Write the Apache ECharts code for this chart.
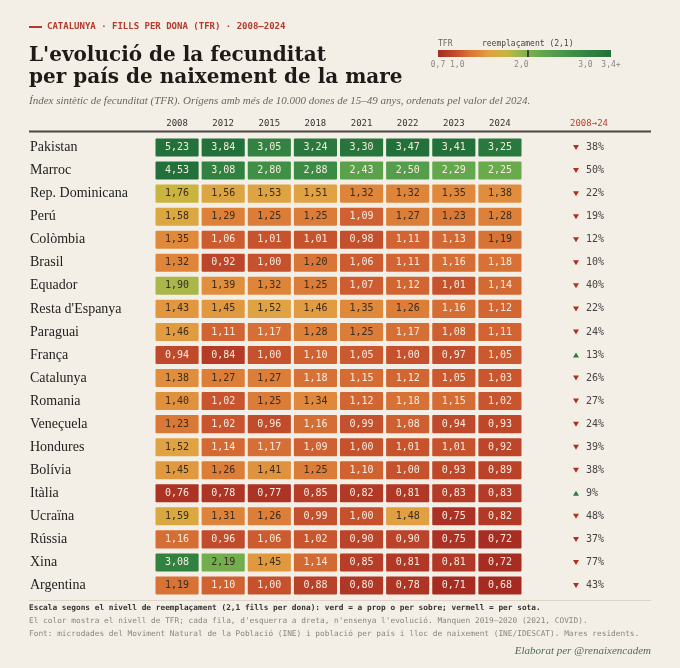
<!DOCTYPE html>
<html>
<head>
<meta charset="utf-8">
<script src="https://cdn.jsdelivr.net/npm/echarts@6/dist/echarts.min.js"></script>
<style>
html,body{margin:0;padding:0;background:#f4efe6;}
#chart{width:680px;height:668px;}
</style>
</head>
<body>
<div id="chart"></div>
<script>
var years = ['2008','2012','2015','2018','2021','2022','2023','2024'];
var countries = ['Pakistan','Marroc','Rep. Dominicana','Perú','Colòmbia','Brasil','Equador',"Resta d'Espanya",'Paraguai','França','Catalunya','Romania','Veneçuela','Hondures','Bolívia','Itàlia','Ucraïna','Rússia','Xina','Argentina'];
// TFR per país (files) i any (columnes)
var tfr = [
  [5.23,3.84,3.05,3.24,3.30,3.47,3.41,3.25],
  [4.53,3.08,2.80,2.88,2.43,2.50,2.29,2.25],
  [1.76,1.56,1.53,1.51,1.32,1.32,1.35,1.38],
  [1.58,1.29,1.25,1.25,1.09,1.27,1.23,1.28],
  [1.35,1.06,1.01,1.01,0.98,1.11,1.13,1.19],
  [1.32,0.92,1.00,1.20,1.06,1.11,1.16,1.18],
  [1.90,1.39,1.32,1.25,1.07,1.12,1.01,1.14],
  [1.43,1.45,1.52,1.46,1.35,1.26,1.16,1.12],
  [1.46,1.11,1.17,1.28,1.25,1.17,1.08,1.11],
  [0.94,0.84,1.00,1.10,1.05,1.00,0.97,1.05],
  [1.38,1.27,1.27,1.18,1.15,1.12,1.05,1.03],
  [1.40,1.02,1.25,1.34,1.12,1.18,1.15,1.02],
  [1.23,1.02,0.96,1.16,0.99,1.08,0.94,0.93],
  [1.52,1.14,1.17,1.09,1.00,1.01,1.01,0.92],
  [1.45,1.26,1.41,1.25,1.10,1.00,0.93,0.89],
  [0.76,0.78,0.77,0.85,0.82,0.81,0.83,0.83],
  [1.59,1.31,1.26,0.99,1.00,1.48,0.75,0.82],
  [1.16,0.96,1.06,1.02,0.90,0.90,0.75,0.72],
  [3.08,2.19,1.45,1.14,0.85,0.81,0.81,0.72],
  [1.19,1.10,1.00,0.88,0.80,0.78,0.71,0.68]
];
// variació 2008->2024 (%)
var change = [-38,-50,-22,-19,-12,-10,-40,-22,-24,13,-26,-27,-24,-39,-38,9,-48,-37,-77,-43];
var legendTicks = [0.7, 1, 2, 3, 3.4];
var replacement = 2.1;

// escala de color
var scaleStops  = [0.7, 0.9, 1.05, 1.2, 1.35, 1.5, 1.75, 1.9, 2.1, 2.3, 2.8, 3.4];
var scaleColors = ['#a52b22','#bb4329','#cb592f','#d97536','#e0893b','#e1a143','#cab43e','#a8b64a','#7fb14e','#62a74d','#3f8f47','#22703a'];

function hex2rgb(h){ return [parseInt(h.substr(1,2),16), parseInt(h.substr(3,2),16), parseInt(h.substr(5,2),16)]; }
function tfrColor(v){
  if (v <= scaleStops[0]) return scaleColors[0];
  var n = scaleStops.length;
  if (v >= scaleStops[n-1]) return scaleColors[n-1];
  for (var i = 0; i < n-1; i++){
    if (v <= scaleStops[i+1]){
      var t = (v - scaleStops[i]) / (scaleStops[i+1] - scaleStops[i]);
      var a = hex2rgb(scaleColors[i]), b = hex2rgb(scaleColors[i+1]);
      return 'rgb(' + Math.round(a[0]+(b[0]-a[0])*t) + ',' + Math.round(a[1]+(b[1]-a[1])*t) + ',' + Math.round(a[2]+(b[2]-a[2])*t) + ')';
    }
  }
}
function textColor(v){ return (v >= 1.19 && v < 2.2) ? '#3b2c1d' : '#f7ebdf'; }
function fmt(v){ return v.toFixed(2).replace('.', ','); }

var MONO = 'DejaVu Sans Mono';
var SERIF = 'Liberation Serif';

var cells = [];
tfr.forEach(function(row, r){
  row.forEach(function(v, c){ cells.push([c, r, v]); });
});
var changeData = change.map(function(d, r){ return [0, r, d]; });

var gradStops = scaleStops.map(function(s, i){
  return {offset: (s - scaleStops[0]) / (scaleStops[scaleStops.length-1] - scaleStops[0]), color: scaleColors[i]};
});

var chart = echarts.init(document.getElementById('chart'));
var option = {
  backgroundColor: '#f4efe6',
  animation: false,
  grid: [
    {left: 154, top: 136, width: 369, height: 461},
    {left: 560, top: 136, width: 58, height: 461},
    {left: 438, top: 50, width: 173, height: 7}
  ],
  xAxis: [
    {gridIndex: 0, type: 'category', data: years, position: 'top',
     axisLine: {show: false}, axisTick: {show: false},
     axisLabel: {margin: 8, fontFamily: MONO, fontSize: 9, color: '#333'}},
    {gridIndex: 1, type: 'category', data: ['2008→24'], position: 'top',
     axisLine: {show: false}, axisTick: {show: false},
     axisLabel: {margin: 8, fontFamily: MONO, fontSize: 9, color: '#b5432f'}},
    {gridIndex: 2, type: 'value', min: 0.7, max: 3.4, position: 'bottom',
     axisLine: {show: false}, axisTick: {show: false}, splitLine: {show: false},
     axisLabel: {customValues: legendTicks, margin: 4, fontFamily: MONO, fontSize: 8, color: '#888',
       formatter: function(v){ return v.toFixed(1).replace('.', ',') + (v >= 3.4 ? '+' : ''); }}}
  ],
  yAxis: [
    {gridIndex: 0, type: 'category', data: countries, inverse: true,
     axisLine: {show: false}, axisTick: {show: false},
     axisLabel: {align: 'left', margin: 124, fontFamily: SERIF, fontSize: 14, color: '#222'}},
    {gridIndex: 1, type: 'category', data: countries, inverse: true, show: false},
    {gridIndex: 2, type: 'value', min: 0, max: 1, show: false}
  ],
  series: [
    {
      type: 'custom', xAxisIndex: 0, yAxisIndex: 0, data: cells,
      encode: {x: 0, y: 1},
      renderItem: function(params, api){
        var c = api.coord([api.value(0), api.value(1)]);
        var s = api.size([1, 1]);
        var w = s[0] - 3, h = s[1] - 5;
        var v = api.value(2);
        return {type: 'group', children: [
          {type: 'rect', shape: {x: c[0]-w/2, y: c[1]-h/2, width: w, height: h, r: 1}, style: {fill: tfrColor(v)}},
          {type: 'text', x: c[0], y: c[1], style: {text: fmt(v), fill: textColor(v), font: '10px ' + MONO, align: 'center', verticalAlign: 'middle'}}
        ]};
      }
    },
    {
      type: 'custom', xAxisIndex: 1, yAxisIndex: 1, data: changeData,
      encode: {x: 0, y: 1},
      renderItem: function(params, api){
        var c = api.coord([api.value(0), api.value(1)]);
        var d = api.value(2);
        var tx = c[0] - 13, ty = c[1];
        var pts = d < 0 ? [[tx-3, ty-2.5], [tx+3, ty-2.5], [tx, ty+2.5]] : [[tx-3, ty+2.5], [tx+3, ty+2.5], [tx, ty-2.5]];
        return {type: 'group', children: [
          {type: 'polygon', shape: {points: pts}, style: {fill: d < 0 ? '#b0301f' : '#2e7d3a'}},
          {type: 'text', x: c[0] - 3, y: c[1], style: {text: Math.abs(d) + '%', fill: '#444', font: '10px ' + MONO, align: 'left', verticalAlign: 'middle'}}
        ]};
      }
    },
    {
      type: 'custom', xAxisIndex: 2, yAxisIndex: 2, data: [[0.7, 0, 3.4, 1]],
      renderItem: function(params, api){
        var p0 = api.coord([api.value(0), api.value(3)]);
        var p1 = api.coord([api.value(2), api.value(1)]);
        return {type: 'rect', shape: {x: p0[0], y: p0[1], width: p1[0]-p0[0], height: p1[1]-p0[1]},
          style: {fill: new echarts.graphic.LinearGradient(0, 0, 1, 0, gradStops)}};
      },
      markLine: {
        silent: true, symbol: 'none',
        lineStyle: {color: '#222', width: 1.5, type: 'solid'},
        label: {position: 'end', distance: 2, formatter: 'reemplaçament (2,1)', fontFamily: MONO, fontSize: 8, color: '#444'},
        data: [{xAxis: replacement}]
      }
    }
  ],
  graphic: [
    {type: 'rect', left: 29, top: 26, shape: {width: 13, height: 2}, style: {fill: '#b33a2c'}},
    {type: 'text', x: 47, y: 27, style: {text: 'CATALUNYA · FILLS PER DONA (TFR) · 2008–2024', font: 'bold 9px ' + MONO, fill: '#b33a2c', verticalAlign: 'middle'}},
    {type: 'text', x: 29, y: 56, style: {text: "L'evolució de la fecunditat", font: 'bold 20px "DejaVu Serif"', fill: '#1d1a17', verticalAlign: 'middle'}},
    {type: 'text', x: 29, y: 78, style: {text: 'per país de naixement de la mare', font: 'bold 20px "DejaVu Serif"', fill: '#1d1a17', verticalAlign: 'middle'}},
    {type: 'text', x: 29, y: 101, style: {text: 'Índex sintètic de fecunditat (TFR). Orígens amb més de 10.000 dones de 15–49 anys, ordenats pel valor del 2024.', font: 'italic 11px ' + SERIF, fill: '#6b6560', verticalAlign: 'middle'}},
    {type: 'text', x: 438, y: 44, style: {text: 'TFR', font: '8px ' + MONO, fill: '#666', verticalAlign: 'middle'}},
    {type: 'line', shape: {x1: 29, y1: 131.5, x2: 651, y2: 131.5}, style: {stroke: '#4a4540', lineWidth: 2}},
    {type: 'line', shape: {x1: 29, y1: 600.5, x2: 651, y2: 600.5}, style: {stroke: '#dcd4c6', lineWidth: 1}},
    {type: 'text', x: 29, y: 608, style: {text: 'Escala segons el nivell de reemplaçament (2,1 fills per dona): verd = a prop o per sobre; vermell = per sota.', font: 'bold 7.8px ' + MONO, fill: '#333', verticalAlign: 'middle'}},
    {type: 'text', x: 29, y: 621, style: {text: "El color mostra el nivell de TFR; cada fila, d'esquerra a dreta, n'ensenya l'evolució. Manquen 2019–2020 (2021, COVID).", font: '7.8px ' + MONO, fill: '#8a857e', verticalAlign: 'middle'}},
    {type: 'text', x: 29, y: 634, style: {text: 'Font: microdades del Moviment Natural de la Població (INE) i població per país i lloc de naixement (INE/IDESCAT). Mares residents.', font: '7.8px ' + MONO, fill: '#8a857e', verticalAlign: 'middle'}},
    {type: 'text', x: 651, y: 651, style: {text: 'Elaborat per @renaixencadem', font: 'italic 11px ' + SERIF, fill: '#4d6b5c', align: 'right', verticalAlign: 'middle'}}
  ]
};
chart.setOption(option);
</script>
</body>
</html>
